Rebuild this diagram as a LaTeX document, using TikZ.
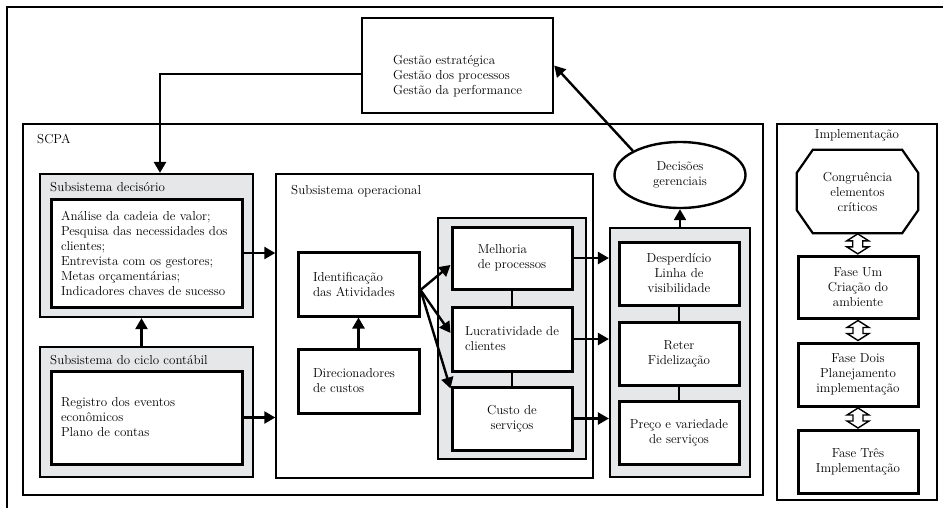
\documentclass[tikz,border=0pt]{standalone}
\usepackage{tikz}
\usetikzlibrary{positioning,shapes,arrows.meta}
\definecolor{panelgray}{RGB}{230,231,232}

\begin{document}
\begin{tikzpicture}[x=1pt,y=-1pt,inner sep=0pt,
  font=\fontsize{13}{15}\selectfont,
  whitebox/.style={draw,line width=3pt,fill=white},
  graybox/.style={draw,line width=2.2pt,fill=panelgray},
  thinbox/.style={draw,line width=1.4pt},
  arr/.style={line width=2.4pt,-{Triangle[length=11pt,width=12pt]}},
  link/.style={line width=1.6pt},
  dblarr/.style={draw,line width=1.4pt,fill=white,line join=miter}]
\useasboundingbox (0,0) rectangle (943,507);
\draw[line width=1.4pt] (7,520) -- (7,7) -- (960,7);
% top
\node[draw,line width=2.4pt,minimum width=191pt,minimum height=95pt] (gest) at (457.5,65.5) {};
\node[align=left] (gesttxt) at (457.5,76) {Gestão estratégica\\Gestão dos processos\\Gestão da performance};
% containers
\node[thinbox,minimum width=740pt,minimum height=371pt] (scpa) at (393,309.5) {};
\node[anchor=west] (scpalbl) at (37,139) {SCPA};
\node[thinbox,minimum width=160pt,minimum height=376pt] (impl) at (857,312) {};
\node (impllbl) at (857,135) {Implementação};
% subsistema decisorio
\node[graybox,minimum width=213pt,minimum height=143pt] (dec) at (146.5,245.5) {};
\node[anchor=west] (declbl) at (50,187) {Subsistema decisório};
\node[whitebox,minimum width=191pt,minimum height=108pt,text width=171pt,align=left] (decin) at (146.5,253)
  {Análise da cadeia de valor;\\Pesquisa das necessidades dos\\clientes;\\Entrevista com os gestores;\\Metas orçamentárias;\\Indicadores chaves de sucesso};
% ciclo contabil
\node[graybox,minimum width=213pt,minimum height=130pt] (cic) at (146.5,412) {};
\node[anchor=west] (ciclbl) at (50,360) {Subsistema do ciclo contábil};
\node[whitebox,minimum width=191pt,minimum height=93pt,text width=171pt,align=left] (cicin) at (146.5,417.5)
  {Registro dos eventos\\econômicos\\Plano de contas};
% operacional
\node[thinbox,minimum width=317pt,minimum height=304pt] (oper) at (434.5,326) {};
\node[anchor=west] (operlbl) at (291,191) {Subsistema operacional};
\node[whitebox,minimum width=121pt,minimum height=64pt,text width=91pt,align=left] (ident) at (358.5,284) {Identificação\\das Atividades};
\node[whitebox,minimum width=121pt,minimum height=64pt,text width=91pt,align=left] (direc) at (358.5,381) {Direcionadores\\de custos};
\node[graybox,minimum width=148pt,minimum height=241pt] (mid) at (512,338.5) {};
\node[whitebox,minimum width=120pt,minimum height=62pt,align=left] (melh) at (512,258) {Melhoria\\de processos};
\node[whitebox,minimum width=120pt,minimum height=64pt,align=left] (lucr) at (512,339) {Lucratividade de\\clientes};
\node[whitebox,minimum width=120pt,minimum height=63pt,align=center] (custo) at (512,418.5) {Custo de\\serviços};
% right column
\node[graybox,minimum width=140pt,minimum height=249pt] (rgt) at (680,352.5) {};
\node[whitebox,minimum width=120pt,minimum height=63pt,align=center] (desp) at (679,273.5) {Desperdício\\Linha de\\visibilidade};
\node[whitebox,minimum width=120pt,minimum height=63pt,align=center] (reter) at (679,353.5) {Reter\\Fidelização};
\node[whitebox,minimum width=120pt,minimum height=63pt,align=center] (preco) at (679,432.5) {Preço e variedade\\de serviços};
\node[ellipse,draw,line width=2.4pt,minimum width=131pt,minimum height=66pt,align=center] (decis) at (680,175) {Decisões\\gerenciais};
% implementacao
\node[minimum width=121pt,minimum height=83pt,align=center] (oct) at (857.5,191.5) {Congruência\\elementos\\críticos};
\draw[line width=2.2pt] ([xshift=16pt]oct.north west) -- ([xshift=-16pt]oct.north east) -- ([yshift=-23pt]oct.north east)
  -- ([yshift=23pt]oct.south east) -- ([xshift=-16pt]oct.south east) -- ([xshift=16pt]oct.south west)
  -- ([yshift=23pt]oct.south west) -- ([yshift=-23pt]oct.north west) -- cycle;
\node[whitebox,minimum width=120pt,minimum height=62pt,align=center] (f1) at (858,287) {Fase Um\\Criação do\\ambiente};
\node[whitebox,minimum width=120pt,minimum height=63pt,align=center] (f2) at (858,374.5) {Fase Dois\\Planejamento\\implementação};
\node[whitebox,minimum width=120pt,minimum height=63pt,align=center] (f3) at (858,461.5) {Fase Três\\Implementação};
\path (oct.south) -- coordinate[midway] (a1) (f1.north);
\path (f1.south) -- coordinate[midway] (a2) (f2.north);
\path (f2.south) -- coordinate[midway] (a3) (f3.north);
\foreach \a in {a1,a2,a3}
  \draw[dblarr] (\a) ++(0,-10) -- ++(11,7) -- ++(-6,0) -- ++(0,6) -- ++(6,0) -- ++(-11,7)
    -- ++(-11,-7) -- ++(6,0) -- ++(0,-6) -- ++(-6,0) -- cycle;
% connectors
\draw[link] (melh) -- (lucr);
\draw[link] (lucr) -- (custo);
\draw[link] (desp) -- (reter);
\draw[link] (reter) -- (preco);
\draw[arr] ([yshift=-8.5pt]gest.west) -| ([xshift=13.5pt]dec.north);
\draw[arr] (decin.east) -- (decin.east -| oper.west);
\draw[arr] (cicin.east) -- (cicin.east -| oper.west);
\draw[arr] ([xshift=-5pt]cic.north) -- ([xshift=-5pt]dec.south);
\draw[arr] (direc.north) -- (ident.south);
\draw[arr] ([yshift=-6pt]ident.east) -- ([yshift=-7pt]melh.west);
\draw[arr] ([yshift=-6pt]ident.east) -- ([yshift=6pt]lucr.west);
\draw[arr] ([yshift=-6pt]ident.east) -- ([yshift=-3pt]custo.north west);
\draw[arr] (melh.east) -- (melh.east -| rgt.west);
\draw[arr] (lucr.east) -- (lucr.east -| rgt.west);
\draw[arr] (custo.east) -- (custo.east -| rgt.west);
\draw[arr] (rgt.north) -- (decis.south);
\draw[arr] (decis.north west) -- (gest.east);
\end{tikzpicture}
\end{document}
